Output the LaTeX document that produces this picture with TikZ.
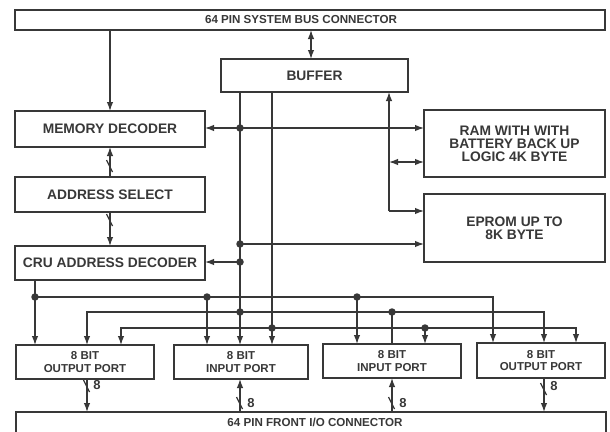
\documentclass[tikz,border=0pt]{standalone}
\usepackage{fontspec}
\setmainfont{Liberation Sans}
\usetikzlibrary{arrows.meta}
\definecolor{ink}{HTML}{383838}
\begin{document}
\begin{tikzpicture}[x=1pt,y=-1pt,color=ink,line width=1.3pt,
  >={Latex[length=9pt,width=6.5pt]},
  box/.style={draw,rectangle,inner sep=0pt,outer sep=0pt,anchor=north west,align=center,
    font=\bfseries\fontsize{13.8pt}{13pt}\selectfont},
  portbox/.style={box,font=\bfseries\fontsize{11.5pt}{12.5pt}\selectfont},
  bustext/.style={inner sep=0pt,font=\bfseries\fontsize{11.6pt}{12pt}\selectfont},
  eight/.style={inner sep=0pt,font=\bfseries\fontsize{13pt}{13pt}\selectfont},
  dot/.style={circle,fill,inner sep=0pt,minimum size=7.5pt},
  busslash/.pic={\draw[line width=1.3pt] (-3.5,-6) -- (2.5,6);}]
\useasboundingbox[fill=white] (0,0) rectangle (610,431);

% boxes
\node[box,minimum width=590pt,minimum height=20pt] (sysbus) at (15,10) {};
\node[bustext] (sysbustext) at (301,20) {64 PIN SYSTEM BUS CONNECTOR};
\node[box,minimum width=187pt,minimum height=33pt] (buffer) at (221,59) {BUFFER};
\node[box,minimum width=190pt,minimum height=36pt] (memdec) at (15,111) {MEMORY DECODER};
\node[box,minimum width=181pt,minimum height=67pt] (ram) at (424,110) {RAM WITH WITH\\BATTERY BACK UP\\LOGIC 4K BYTE};
\node[box,minimum width=190pt,minimum height=35pt] (addrsel) at (15,177) {ADDRESS SELECT};
\node[box,minimum width=181pt,minimum height=68pt,font=\bfseries\fontsize{13.8pt}{13.5pt}\selectfont] (eprom) at (424,194) {EPROM UP TO\\8K BYTE};
\node[box,minimum width=190pt,minimum height=34pt] (cru) at (15,246) {CRU ADDRESS DECODER};
\node[portbox,minimum width=138pt,minimum height=34pt] (op1) at (16,345) {8 BIT\\OUTPUT PORT};
\node[portbox,minimum width=134pt,minimum height=34pt] (ip1) at (174,345) {8 BIT\\INPUT PORT};
\node[portbox,minimum width=138pt,minimum height=34pt] (ip2) at (323,344) {8 BIT\\INPUT PORT};
\node[portbox,minimum width=128pt,minimum height=35pt] (op2) at (477,343) {8 BIT\\OUTPUT PORT};
\node[box,minimum width=590pt,minimum height=26pt] (front) at (16,412) {};
\node[bustext] (fronttext) at (315,422) {64 PIN FRONT I/O CONNECTOR};

% upper connections
\coordinate (bx) at (311,0);
\draw[<->] (sysbus.south -| bx) -- (buffer.north -| bx);
\draw[->] (sysbus.south -| memdec.north) -- (memdec.north);
\coordinate (xa) at (240,0);
\coordinate (xb) at (272,0);
\draw[->] (buffer.south -| xa) -- (ip1.north -| xa);
\draw[->] (buffer.south -| xb) -- (ip1.north -| xb);
\coordinate (c1) at (389,211);
\draw[->] (c1) -- (buffer.south -| c1);
\draw[->] (c1) -- (eprom.west |- c1);
\coordinate (c2) at (389,162);
\draw[<->] (c2) -- (ram.west |- c2);
\node[dot] (d1) at (240,128) {};
\draw[->] (d1.center) -- (memdec.east |- d1.center);
\draw[->] (d1.center) -- (ram.west |- d1.center);
\node[dot] (d2) at (240,244) {};
\draw[->] (d2.center) -- (eprom.west |- d2.center);
\node[dot] (d3) at (240,262) {};
\draw[->] (d3.center) -- (cru.east |- d3.center);

\draw[->] (addrsel.north) -- (memdec.south);
\pic at (110,166) {busslash};
\draw[->] (addrsel.south) -- (cru.north);
\pic at (110,220) {busslash};

% lower bus
\node[dot] (e1) at (35,297) {};
\coordinate (e2) at (493,297);
\draw[->] (cru.south -| e1) -- (op1.north -| e1);
\draw[->] (e1.center) -- (e2) -- (op2.north -| e2);
\node[dot] (e3) at (207,297) {};
\draw[->] (e3.center) -- (ip1.north -| e3);
\node[dot] (e4) at (357,297) {};
\draw[->] (e4.center) -- (ip2.north -| e4);

\coordinate (f1) at (87,312);
\coordinate (f2) at (544,312);
\draw[<->] (op1.north -| f1) -- (f1) -- (f2) -- (op2.north -| f2);
\node[dot] (f3) at (240,312) {};
\node[dot] (f4) at (392,312) {};
\draw (f4.center) -- (ip2.north -| f4);

\coordinate (g1) at (121,328);
\coordinate (g2) at (576,328);
\draw[<->] (op1.north -| g1) -- (g1) -- (g2) -- (op2.north -| g2);
\node[dot] (g3) at (272,328) {};
\node[dot] (g4) at (425,328) {};
\draw[->] (g4.center) -- (ip2.north -| g4);

% ports to front connector
\draw[->] (op1.south -| f1) -- (front.north -| f1);
\pic at (87,386) {busslash};
\node[eight] (l1) at (97,385) {8};
\draw[->] (front.north -| xa) -- (ip1.south -| xa);
\pic at (240,403) {busslash};
\node[eight] (l2) at (251,403) {8};
\draw[->] (front.north -| f4) -- (ip2.south -| f4);
\pic at (392,403) {busslash};
\node[eight] (l3) at (403,403) {8};
\draw[->] (op2.south -| f2) -- (front.north -| f2);
\pic at (544,389) {busslash};
\node[eight] (l4) at (554,386) {8};
\end{tikzpicture}
\end{document}
